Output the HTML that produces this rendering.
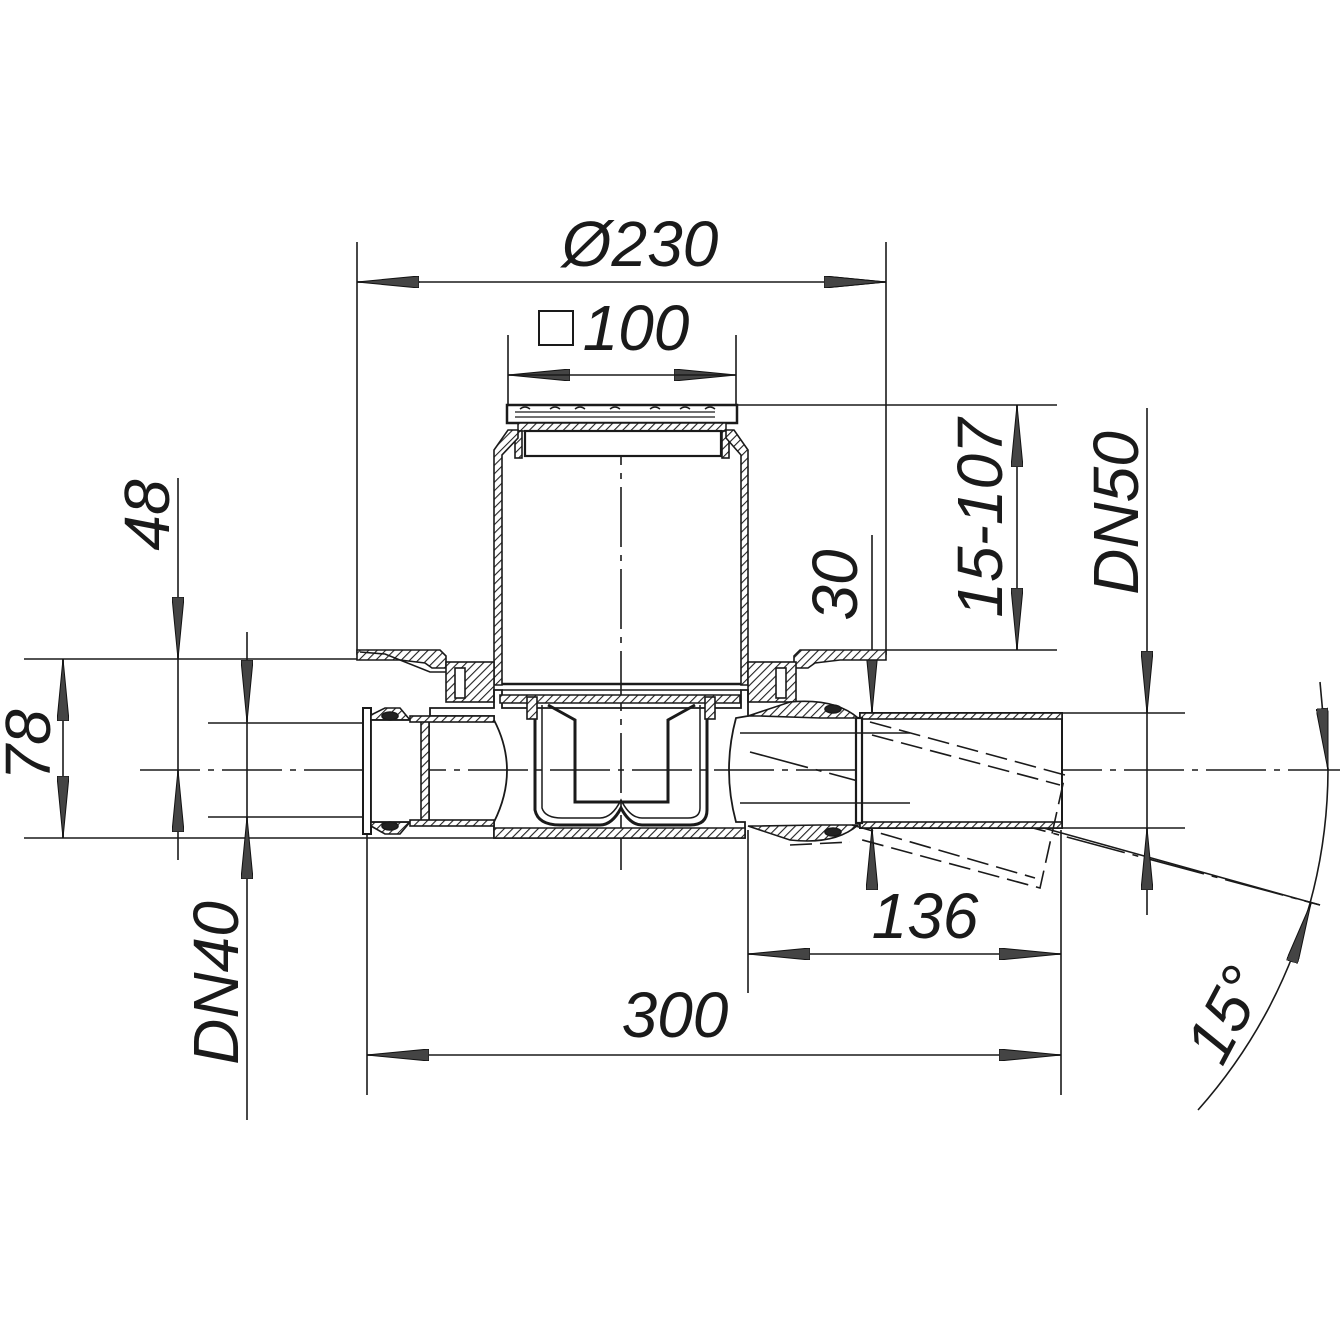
<!DOCTYPE html>
<html><head><meta charset="utf-8"><style>
html,body{margin:0;padding:0;background:#fff;}
svg{display:block;}
text{font-family:"Liberation Sans",sans-serif;font-style:italic;font-size:64px;fill:#1a1a1a;}
</style></head><body>
<svg width="1340" height="1340" viewBox="0 0 1340 1340" xmlns="http://www.w3.org/2000/svg">
<defs>
<pattern id="h" patternUnits="userSpaceOnUse" width="6" height="6" patternTransform="rotate(45)">
<rect width="6" height="6" fill="#fff"/><line x1="0" y1="0" x2="0" y2="6" stroke="#222" stroke-width="2.2"/>
</pattern>
<marker id="a" viewBox="0 0 62 12" refX="62" refY="6" markerWidth="62" markerHeight="12" markerUnits="userSpaceOnUse" orient="auto">
<path d="M0,0 L62,6 L0,12 Z" fill="#444" stroke="#111" stroke-width="1"/>
</marker>
</defs>
<g stroke="#1a1a1a" stroke-width="1.6" fill="none">
<!-- extension lines -->
<line x1="357" y1="242" x2="357" y2="655"/>
<line x1="886" y1="242" x2="886" y2="655"/>
<line x1="508" y1="335" x2="508" y2="405"/>
<line x1="736" y1="335" x2="736" y2="405"/>
<line x1="737" y1="405" x2="1057" y2="405"/>
<line x1="886" y1="650" x2="1057" y2="650"/>
<line x1="24" y1="659" x2="360" y2="659"/>
<line x1="24" y1="838" x2="500" y2="838"/>
<line x1="208" y1="723" x2="365" y2="723"/>
<line x1="208" y1="817" x2="365" y2="817"/>
<line x1="860" y1="713" x2="1185" y2="713"/>
<line x1="860" y1="828" x2="1185" y2="828"/>
<line x1="367" y1="830" x2="367" y2="1095"/>
<line x1="748" y1="830" x2="748" y2="993"/>
<line x1="1061" y1="830" x2="1061" y2="1095"/>
<line x1="872" y1="535" x2="872" y2="890"/>
<!-- center lines -->
<line x1="140" y1="770" x2="1340" y2="770" stroke-dasharray="60,8,6,8"/>
<line x1="621" y1="405" x2="621" y2="870" stroke-dasharray="60,8,6,8"/>
<line x1="750" y1="752" x2="1320" y2="905" stroke-dasharray="60,8,6,8"/>
<line x1="1040" y1="827" x2="1320" y2="905"/>
<!-- dim lines -->
<line x1="357" y1="282" x2="886" y2="282" marker-start="url(#a)" marker-end="url(#a)" style="marker-start:none"/>
<line x1="420" y1="282" x2="357" y2="282" marker-end="url(#a)"/>
<line x1="824" y1="282" x2="886" y2="282" marker-end="url(#a)"/>
<line x1="570" y1="375" x2="508" y2="375" marker-end="url(#a)"/>
<line x1="674" y1="375" x2="736" y2="375" marker-end="url(#a)"/>
<line x1="508" y1="375" x2="736" y2="375"/>
<line x1="1017" y1="405" x2="1017" y2="650"/>
<line x1="1017" y1="467" x2="1017" y2="405" marker-end="url(#a)"/>
<line x1="1017" y1="588" x2="1017" y2="650" marker-end="url(#a)"/>
<line x1="1147" y1="408" x2="1147" y2="915"/>
<line x1="1147" y1="651" x2="1147" y2="713" marker-end="url(#a)"/>
<line x1="1147" y1="890" x2="1147" y2="828" marker-end="url(#a)"/>
<line x1="872" y1="651" x2="872" y2="713" marker-end="url(#a)"/>
<line x1="872" y1="890" x2="872" y2="828" marker-end="url(#a)"/>
<line x1="178" y1="478" x2="178" y2="860"/>
<line x1="178" y1="597" x2="178" y2="659" marker-end="url(#a)"/>
<line x1="178" y1="832" x2="178" y2="770" marker-end="url(#a)"/>
<line x1="247" y1="632" x2="247" y2="1120"/>
<line x1="247" y1="660" x2="247" y2="722" marker-end="url(#a)"/>
<line x1="247" y1="879" x2="247" y2="817" marker-end="url(#a)"/>
<line x1="63" y1="659" x2="63" y2="838"/>
<line x1="63" y1="721" x2="63" y2="659" marker-end="url(#a)"/>
<line x1="63" y1="776" x2="63" y2="838" marker-end="url(#a)"/>
<line x1="748" y1="954" x2="1061" y2="954"/>
<line x1="810" y1="954" x2="748" y2="954" marker-end="url(#a)"/>
<line x1="999" y1="954" x2="1061" y2="954" marker-end="url(#a)"/>
<line x1="367" y1="1055" x2="1061" y2="1055"/>
<line x1="429" y1="1055" x2="367" y2="1055" marker-end="url(#a)"/>
<line x1="999" y1="1055" x2="1061" y2="1055" marker-end="url(#a)"/>
<!-- 15 degree arc -->
<line x1="1320" y1="682" x2="1328" y2="770"/>
<path d="M1328,770 A514,514 0 0 1 1198,1110"/>
<path d="M1322,708 L1328,770" marker-end="url(#a)"/>
<path d="M1292,962 L1311,903" marker-end="url(#a)"/>

<!-- body: grate -->
<rect x="507" y="405" width="230" height="18" fill="#fff" stroke-width="2.5"/>
<path d="M515,412 h200 M515,417 h200" stroke-width="1.2"/>
<g stroke-width="1.5"><path d="M520,409 q5,-4 10,0 M550,409 q5,-4 10,0 M575,409 q5,-4 10,0 M610,409 q5,-4 10,0 M650,409 q5,-4 10,0 M680,409 q5,-4 10,0 M705,409 q5,-4 10,0"/></g>
<rect x="518" y="423" width="208" height="8" fill="url(#h)" stroke-width="1.5"/>
<rect x="525" y="431" width="196" height="25" fill="#fff" stroke-width="2.2"/>
<rect x="515" y="431" width="7" height="27" fill="url(#h)"/>
<rect x="722" y="431" width="7" height="27" fill="url(#h)"/>
<!-- body walls -->
<path d="M494,685 L494,450 L508,430 L518,430 L518,438 L502,455 L502,685 Z" fill="url(#h)" stroke-width="1.6"/>
<path d="M748,685 L748,450 L734,430 L726,430 L726,438 L741,455 L741,685 Z" fill="url(#h)" stroke-width="1.6"/>
<line x1="502" y1="684" x2="741" y2="684" stroke-width="2.5"/>
<line x1="502" y1="690" x2="741" y2="690" stroke-width="1.5"/>
<!-- flanges -->
<path d="M357,650 L440,650 L446,656 L446,668 L432,668 L425,663 L400,660 L357,660 Z" fill="url(#h)"/>
<path d="M360,652 L385,654 L430,672 L446,672" fill="none"/>
<rect x="446" y="662" width="48" height="40" fill="url(#h)"/>
<rect x="455" y="668" width="10" height="30" fill="#fff"/>
<path d="M886,650 L800,650 L794,656 L794,668 L808,668 L815,663 L840,660 L886,660 Z" fill="url(#h)"/>
<rect x="748" y="662" width="48" height="40" fill="url(#h)"/>
<rect x="776" y="668" width="10" height="30" fill="#fff"/>
<!-- lower body -->
<path d="M494,690 L494,708 L430,708 L430,716 L494,716 L494,720 Q520,770 494,822 L494,838 L745,838 L745,822 L736,822 Q722,770 736,718 L748,716 L748,690 L741,690 L741,708 L502,708 L502,690 Z" fill="none" stroke-width="1.8"/>
<path d="M494,828 L494,838 L745,838 L745,828 Z" fill="url(#h)"/>
<path d="M500,695 h240 v8 h-240 Z" fill="url(#h)"/>
<!-- trap -->
<path d="M535,705 L535,810 Q538,825 560,825 L600,825 Q612,825 621,808 Q630,825 642,825 L690,825 Q707,825 707,810 L707,705" stroke-width="3"/>
<path d="M542,705 L542,808 Q545,818 562,818 L600,818 Q612,818 621,800 Q630,818 642,818 L688,818 Q700,818 700,808 L700,705" stroke-width="1.5"/>
<path d="M548,705 L575,720 L575,802 L668,802 L668,720 L695,705" stroke-width="3"/>
<rect x="527" y="697" width="10" height="22" fill="url(#h)"/>
<rect x="705" y="697" width="10" height="22" fill="url(#h)"/>
<!-- left pipe DN40 -->
<rect x="363" y="708" width="8" height="126" fill="#fff" stroke-width="2"/>
<path d="M371,715 L385,708 L400,708 L410,720 L371,720 Z" fill="url(#h)"/>
<path d="M371,826 L385,834 L400,834 L410,822 L371,822 Z" fill="url(#h)"/>
<rect x="371" y="720" width="58" height="102" fill="#fff" stroke-width="1.8"/>
<rect x="421" y="720" width="8" height="102" fill="url(#h)"/>
<rect x="410" y="716" width="84" height="6" fill="url(#h)"/>
<rect x="410" y="820" width="84" height="6" fill="url(#h)"/>
<ellipse cx="390" cy="716" rx="8" ry="4" fill="#222"/>
<ellipse cx="390" cy="826" rx="8" ry="4" fill="#222"/>
<!-- right pipe DN50 -->
<rect x="860" y="713" width="202" height="115" fill="#fff" stroke-width="2"/>
<rect x="860" y="713" width="202" height="6" fill="url(#h)"/>
<rect x="860" y="822" width="202" height="6" fill="url(#h)"/>
<rect x="856" y="718" width="6" height="105" fill="#fff" stroke-width="2.2"/>
<path d="M748,716 L790,702 Q835,698 858,718 L820,718 L760,716 Z" fill="url(#h)"/>
<path d="M748,826 L790,840 Q835,845 858,825 L820,825 L760,826 Z" fill="url(#h)"/>
<ellipse cx="833" cy="709" rx="8" ry="4" fill="#222"/>
<ellipse cx="833" cy="832" rx="8" ry="4" fill="#222"/>
<line x1="740" y1="733" x2="910" y2="733"/>
<line x1="740" y1="803" x2="910" y2="803"/>
<!-- dashed tilted pipe -->
<g stroke-dasharray="22,8" stroke-width="1.6">
<path d="M870,722 L1065,775 L1040,888 L855,838"/>
<path d="M872,735 L1060,785"/>
<path d="M852,825 L1035,878"/>
<path d="M790,845 L850,842"/>
</g>
</g>
<!-- labels -->
<text x="640" y="266" text-anchor="middle">Ø230</text>
<rect x="539" y="311" width="34" height="34" fill="none" stroke="#1a1a1a" stroke-width="2"/>
<text x="636" y="350" text-anchor="middle">100</text>
<text x="925" y="938" text-anchor="middle">136</text>
<text x="675" y="1037" text-anchor="middle">300</text>
<text transform="translate(169,515) rotate(-90)" text-anchor="middle">48</text>
<text transform="translate(50,745) rotate(-90)" text-anchor="middle">78</text>
<text transform="translate(238,983) rotate(-90)" text-anchor="middle">DN40</text>
<text transform="translate(857,585) rotate(-90)" text-anchor="middle">30</text>
<text transform="translate(1002,518) rotate(-90)" text-anchor="middle">15-107</text>
<text transform="translate(1138,513) rotate(-90)" text-anchor="middle">DN50</text>
<text transform="translate(1245,1025) rotate(-62)" text-anchor="middle">15°</text>
</svg>
</body></html>
